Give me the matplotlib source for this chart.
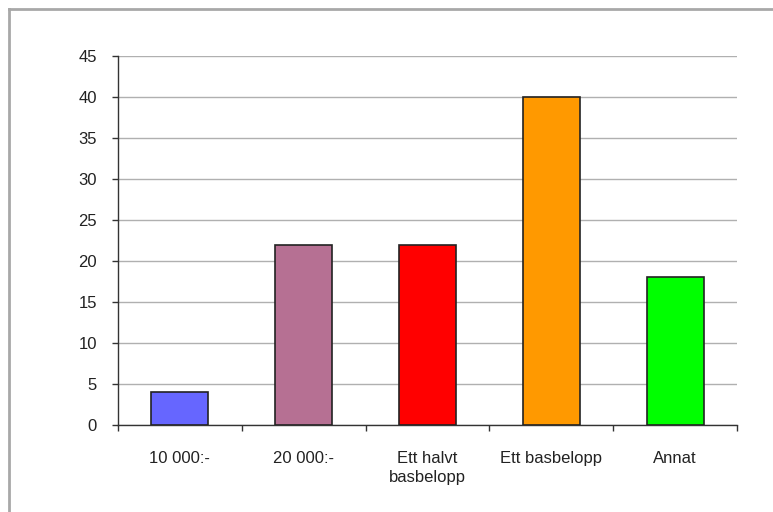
import numpy as np
import matplotlib.pyplot as plt
from matplotlib.lines import Line2D

categories = ['10 000:-', '20 000:-', 'Ett halvt\nbasbelopp', 'Ett basbelopp', 'Annat']
values = [4, 22, 22, 40, 18]
colors = ['#6666FF', '#B67093', '#FF0000', '#FF9900', '#00FF00']

plt.rcParams['font.family'] = ['Liberation Sans', 'DejaVu Sans']

fig = plt.figure(figsize=(7.73, 5.12), dpi=100)
ax = fig.add_axes([118 / 773, 1 - 425 / 512, (737 - 118) / 773, (425 - 56) / 512])

x = np.arange(len(categories))
ax.bar(x, values, width=0.46, color=colors, edgecolor='#222222', linewidth=1.2, zorder=3)

ax.set_xlim(-0.5, len(categories) - 0.5)
ax.set_ylim(0, 45)
ax.set_yticks(np.arange(0, 46, 5))
ax.set_xticks(x)
ax.set_xticklabels(categories, linespacing=1.3)
ax.set_xticks(np.arange(-0.5, len(categories), 1), minor=True)
ax.tick_params(axis='x', which='major', length=0, pad=19, labelsize=12, colors='#222222')
ax.tick_params(axis='x', which='minor', length=4.3, width=1, color='#333333', direction='out')
ax.tick_params(axis='y', length=4.3, width=1, color='#333333', labelsize=12, labelcolor='#222222', pad=11)

ax.grid(axis='y', color='#B0B0B0', linewidth=1, zorder=0)
for s in ['top', 'right']:
    ax.spines[s].set_visible(False)
for s in ['left', 'bottom']:
    ax.spines[s].set_color('#333333')
    ax.spines[s].set_linewidth(1)

# outer chart border (left and top visible)
fig.add_artist(Line2D([9 / 773, 9 / 773], [0, 1 - 9 / 512], color='#A8A8A8', linewidth=2))
fig.add_artist(Line2D([9 / 773, 1], [1 - 9 / 512, 1 - 9 / 512], color='#A8A8A8', linewidth=2))

fig.savefig('out.png', dpi=100)
